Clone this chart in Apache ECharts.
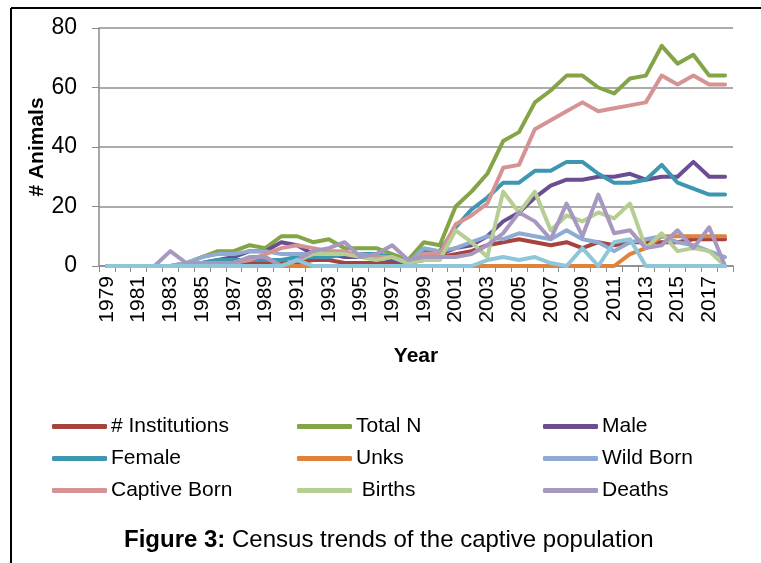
<!DOCTYPE html>
<html>
<head>
<meta charset="utf-8">
<script src="https://cdn.jsdelivr.net/npm/echarts@6/dist/echarts.min.js"></script>
<style>
  html, body { margin: 0; padding: 0; background: #fff; }
  #myChart { width: 761px; height: 563px; }
</style>
</head>
<body>
<div id="myChart"></div>
<script>
  // years on the category axis
  const years = [];
  for (let y = 1979; y <= 2018; y++) years.push(String(y));

  const yTicks = [0, 20, 40, 60, 80];

  const institutions = [0,0,0,0,0,0,1,1,1,1, 1,1,1,2,2,1,1,1,1,1, 2,3,4,5,7,8,9,8,7,8, 6,8,7,8,8,8,8,9,9,9];
  const totalN       = [0,0,0,0,0,1,3,5,5,7, 6,10,10,8,9,6,6,6,4,2, 8,7,20,25,31,42,45,55,59,64, 64,60,58,63,64,74,68,71,64,64];
  const male         = [0,0,0,0,0,0,1,2,3,5, 5,8,7,4,4,3,3,3,2,1, 3,4,6,7,10,15,18,23,27,29, 29,30,30,31,29,30,30,35,30,30];
  const female       = [0,0,0,0,0,0,1,2,2,2, 2,2,3,3,3,4,4,4,3,1, 5,5,13,19,23,28,28,32,32,35, 35,31,28,28,29,34,28,26,24,24];
  const unks         = [0,0,0,0,0,0,0,0,0,0, 0,0,0,0,0,0,0,0,0,0, 0,0,0,0,0,0,0,0,0,0, 0,0,0,4,6,10,10,10,10,10];
  const wildBorn     = [0,0,0,0,0,1,3,4,4,5, 5,4,4,4,4,4,4,3,3,1, 6,5,6,8,10,9,11,10,9,12, 9,8,5,8,9,10,8,7,5,3];
  const captiveBorn  = [0,0,0,0,0,0,0,1,1,2, 4,6,7,6,5,5,3,3,3,1, 4,4,14,17,21,33,34,46,49,52, 55,52,53,54,55,64,61,64,61,61];
  const births       = [0,0,0,0,0,0,0,0,1,3, 3,0,2,4,4,4,3,2,3,1, 2,2,12,8,3,25,18,25,12,17, 15,18,16,21,6,11,5,6,5,0];
  const deaths       = [0,0,0,0,5,1,1,1,1,3, 3,0,2,5,6,8,3,4,7,2, 3,3,3,4,7,11,18,15,9,21, 10,24,11,12,6,7,12,6,13,0];
  const unnamed      = [0,0,0,0,0,0,0,0,0,0, 0,0,2,0,0,0,0,0,0,0, 0,0,0,0,2,3,2,3,1,0, 6,0,8,9,0,0,0,0,0,0];

  const font = "'Liberation Sans Narrow', 'Arial Narrow', 'Liberation Sans', sans-serif";

  function line(name, data, color) {
    return {
      name: name,
      type: 'line',
      data: data,
      symbol: 'none',
      color: color,
      lineStyle: { width: 4, color: color, cap: 'round', join: 'round' }
    };
  }

  function legendCol(left, names) {
    return {
      orient: 'vertical',
      left: left,
      top: 411,
      itemWidth: 55,
      itemHeight: 5,
      itemGap: 11,
      icon: 'roundRect',
      data: names,
      textStyle: { fontFamily: font, fontSize: 21, color: '#000', padding: [0, 0, 0, -1] }
    };
  }

  let myChart = echarts.init(document.getElementById('myChart'));
  myChart.setOption({
    animation: false,
    backgroundColor: '#fff',
    grid: { left: 99, right: 28, top: 28, bottom: 297 },
    legend: [
      legendCol(47, ['# Institutions', 'Female', 'Captive Born']),
      legendCol(292, ['Total N', 'Unks', ' Births']),
      legendCol(538, ['Male', 'Wild Born', 'Deaths'])
    ],
    xAxis: {
      type: 'category',
      data: years,
      boundaryGap: true,
      name: 'Year',
      nameLocation: 'middle',
      nameGap: 80,
      nameTextStyle: { fontFamily: font, fontSize: 21, fontWeight: 'bold', color: '#000' },
      axisLine: { lineStyle: { color: '#8a8a8a', width: 1.5 } },
      axisTick: { show: true, interval: 0, length: 6, lineStyle: { color: '#8a8a8a' } },
      axisLabel: { rotate: 90, interval: 1, fontFamily: font, fontSize: 21, color: '#000', margin: 10 }
    },
    yAxis: {
      type: 'value',
      min: yTicks[0],
      max: yTicks[yTicks.length - 1],
      interval: 20,
      axisLine: { show: true, lineStyle: { color: '#8a8a8a', width: 1.5 } },
      axisTick: { show: true, length: 7, lineStyle: { color: '#8a8a8a' } },
      axisLabel: { fontFamily: font, fontSize: 23, color: '#000', margin: 22 },
      splitLine: { lineStyle: { color: '#8f8f8f', width: 1.5 } }
    },
    series: [
      line('# Institutions', institutions, '#A8423F'),
      line('Total N', totalN, '#84A547'),
      line('Male', male, '#6B4E91'),
      line('Female', female, '#3D97B1'),
      line('Unks', unks, '#E0823A'),
      line('Wild Born', wildBorn, '#8FAAD3'),
      line('Captive Born', captiveBorn, '#D69394'),
      line(' Births', births, '#B6CD93'),
      line('Deaths', deaths, '#A798C0'),
      line('', unnamed, '#8EC6DA')
    ],
    graphic: [
      { type: 'line', shape: { x1: 11, y1: 8, x2: 761, y2: 8 }, style: { stroke: '#000', lineWidth: 2 } },
      { type: 'line', shape: { x1: 11, y1: 8, x2: 11, y2: 563 }, style: { stroke: '#000', lineWidth: 2 } },
      {
        // y axis title
        type: 'text',
        x: 37,
        y: 147,
        rotation: Math.PI / 2,
        style: {
          text: '# Animals',
          font: 'bold 21px ' + font,
          fill: '#000',
          align: 'center',
          verticalAlign: 'middle'
        }
      },
      {
        type: 'text',
        left: 124,
        top: 528,
        style: {
          text: '{b|Figure 3:} Census trends of the captive population',
          font: '24px ' + font,
          fill: '#000',
          rich: { b: { fontFamily: font, fontSize: 24, fontWeight: 'bold', fill: '#000' } }
        }
      }
    ]
  });
</script>
</body>
</html>
